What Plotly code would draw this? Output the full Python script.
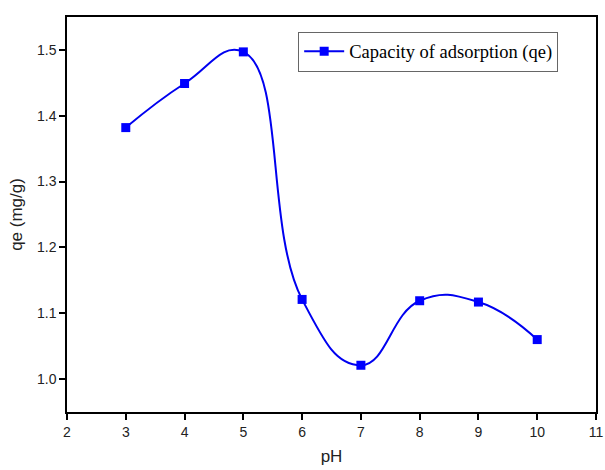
import plotly.graph_objects as go

ph = [3, 4, 5, 6, 7, 8, 9, 10]
qe = [1.382, 1.449, 1.497, 1.121, 1.021, 1.119, 1.117, 1.060]
series_name = "Capacity of adsorption (qe)"
x_ticks = [2, 3, 4, 5, 6, 7, 8, 9, 10, 11]
y_ticks = [1.0, 1.1, 1.2, 1.3, 1.4, 1.5]

fig = go.Figure()
fig.add_trace(go.Scatter(
    x=ph, y=qe, mode="lines+markers", name=series_name,
    line=dict(color="#0000f0", width=2, shape="spline", smoothing=1.3),
    marker=dict(symbol="square", size=9, color="#0000ff"),
))

axis_common = dict(
    showline=True, linecolor="black", linewidth=1.5, mirror=True,
    ticks="outside", ticklen=6, tickwidth=1.5, tickcolor="black",
    showgrid=False, zeroline=False, ticklabeloverflow="allow",
    automargin=False,
    tickfont=dict(family="Liberation Sans, Arial", size=14, color="#222"),
    title_font=dict(family="Liberation Sans, Arial", size=17, color="#222"),
)

fig.update_xaxes(range=[2, 11], tickvals=x_ticks, title_text="pH",
                 title_standoff=12, **axis_common)
fig.update_yaxes(range=[0.95, 1.55], tickvals=y_ticks, tickformat=".1f",
                 title_text="qe (mg/g)", title_standoff=10, **axis_common)

fig.update_layout(
    width=605, height=470,
    margin=dict(l=67, r=9, t=17, b=58),
    plot_bgcolor="white", paper_bgcolor="white",
    showlegend=True,
    legend=dict(
        x=0.437, y=0.963, xanchor="left", yanchor="top",
        bordercolor="#666", borderwidth=1, bgcolor="white",
        font=dict(family="Liberation Serif, Times New Roman", size=18.5, color="black"),
        tracegroupgap=0, itemwidth=40,
    ),
)

fig.write_html("out.html")
